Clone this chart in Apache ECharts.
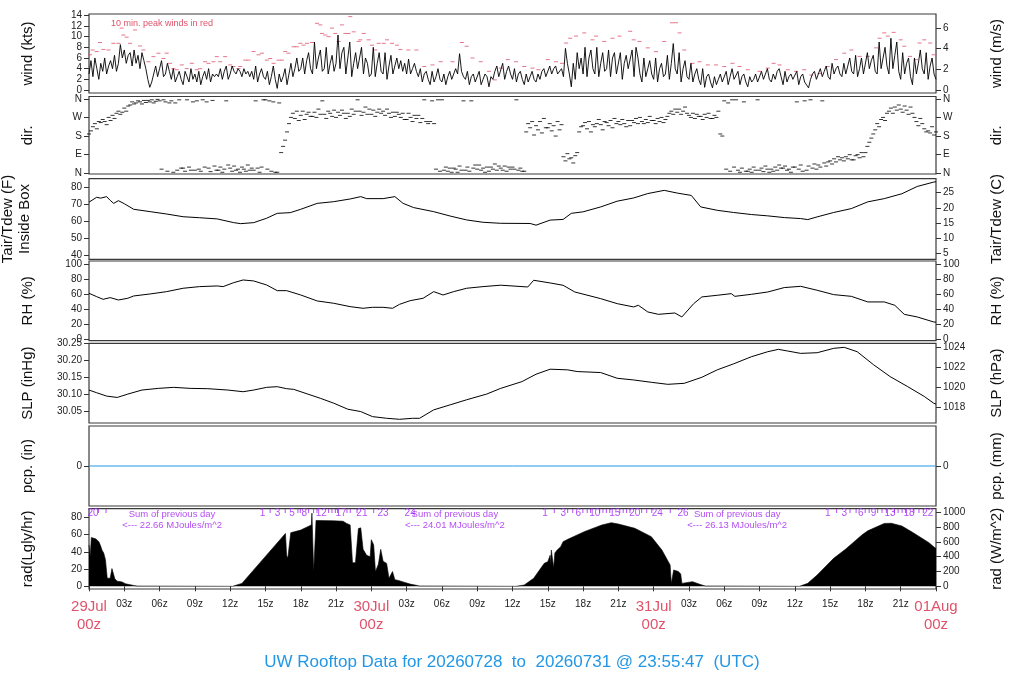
<!DOCTYPE html>
<html><head><meta charset="utf-8">
<script src="https://cdn.jsdelivr.net/npm/echarts@6/dist/echarts.min.js"></script>
<style>html,body{margin:0;padding:0;background:#fff}#c{width:1024px;height:700px}</style>
</head><body><div id="c"></div>
<script>
// ---------------- DATA ----------------
const dayNames = ['29Jul','30Jul','31Jul','01Aug'];
const xTicks = [0,3,6,9,12,15,18,21,24,27,30,33,36,39,42,45,48,51,54,57,60,63,66,69,72];

const windStep = 1/6; // hours between wind samples (10 min)
const windKts = [
3,5.5,2.5,6,4,2, 5,3.5,6,3,4.5,5.5, 4,6.5,3.5,5,8.5,6, 7.5,5,6.5,7,4.5,7.5, 5,6.5,4,7,5.5,4, 2,0.5,1.5,3,4.5,2.5,
4,5.5,2.5,3,5,3.5, 2,4,1.5,2.5,3.5,2, 1,3.5,2.5,1.5,4,2, 3,1.5,3.5,1,2.5,3.5, 2,4,1.5,3,2.5,3, 2.5,4,2,3.5,4.5,2,
3,4.5,3.5,3,4,3.5, 2.5,4,3,3.5,2.5,3.5, 2,4.5,1.5,3,4,2.5, 2,3.5,1,2.5,4.5,2, 0.3,3,1.5,2.5,4,1, 3,5,2.5,4,6,3.5,
4,6,3,5.5,7,4, 3,9,4,6,7.5,3.5, 4,8,3,5,6.5,3.5, 5,10.3,4,7,8,3, 3,9,2.5,5,7,4, 4,8,3,6,5,2.5,
3,8,2.5,5,7,3.5, 3,7,2,4.5,6.5,3, 3,6,4,5.5,3.5,5, 3,5.8,3,4,5,3.5, 2.5,4,1.5,3,3.5,2, 1,3.5,1.5,2.5,4,2,
1.5,3,1,2.5,3.5,2, 2,4,3,6.8,3.5,2.5, 2,3.5,1,2.5,3,1.5, 1.5,3.5,1,2,3,2.5, 0.6,2.5,2,3.5,4.5,2.5, 2.5,5,2,3.5,4.5,3,
2,4,1.5,3,3.5,2, 1,3,1.5,2.5,3.5,2, 1.5,3,2,3.5,4,2.5, 2.5,4.5,3,4,4.5,3, 3,4,2.5,7.8,5,3, 0.6,5,2,7,4,6,
3,8,2.5,6,7.5,4, 3,8,2.5,5,7,3.5, 4,7.5,2.5,6,7,3, 3,7,2,5,6.5,4, 4,7.5,2.5,8,6,3, 1.5,6,2.5,4,5.5,3,
2,6,1.5,4,5,2.5, 3,6.5,2,5,8.7,4, 3,7,1.5,4,5.5,2.5, 2,5,1.5,3,4,2, 1,4,0.5,2.5,3,1.5, 0.4,2.5,1,2,3,1.5,
1.5,3.5,1,2.5,4,2, 2,3.5,1,2.5,3,1.5, 0.6,2.5,1.5,2,3,1.5, 1.5,3.5,2,3,4,2, 1.5,3,2,3.5,4,2.5, 1,3.5,1.5,2.5,3,2,
2,3.5,1,2.5,3,1.5, 1.5,0.4,2,3,3.5,2, 2,4,2.5,3.5,4.5,2.5, 2,5,3,4,4.5,3, 2.5,5,3,4.5,6,3.5, 3,6.5,2.5,4,6,3,
3,7,4,5.5,6.5,3.5, 3,9,4,6,8,4.5, 3,9.7,4,6.5,9,3.5, 2,7,3,5,6,2.5, 1,6,3,5,7.5,4, 3,7,2,4.5,6,3,
2];

const peakHours = [0.09,0.31,0.65,0.94,1.22,1.65,2.07,2.5,2.78,2.92,3.2,3.49,3.91,4.34,4.62,5.05,5.48,5.9,6.33,6.6,6.89,7.17,7.46,7.89,8.31,8.74,9.16,9.45,9.87,10.16,10.58,10.86,11.15,11.57,12,12.28,12.71,12.85,13.28,13.56,13.99,14.41,14.7,15.12,15.4,15.69,16.11,16.4,16.68,16.96,17.39,17.67,17.96,18.24,18.53,18.95,19.38,19.66,19.8,20.09,20.37,20.65,20.94,21.22,21.5,21.79,22.07,22.21,22.5,22.92,23.06,23.35,23.77,24.06,24.34,24.62,25.05,25.33,25.76,26.18,
26.47,27.15,27.83,28.5,29.2,29.9,30.9,31.7,32.1,32.6,33.3,34,34.5,35,35.6,36.3,37,37.7,38.2,39,39.7,40.2,40.56,40.9,41.4,42.1,42.8,43.1,43.8,44.5,45.1,46,46.3,46.8,47.5,48.2,48.9,49.56,49.9,50.2,50.6,51.3,51.9,52.6,53.3,54,54.7,55.3,56,57,57.7,58.2,58.7,59.4,60.1,60.8,61.4,62.1,62.8,63.5,64.2,64.8,65.5,66.2,66.9,67.2,67.6,67.9,68.4,69,69.3,69.8,70.3,70.6,71,71.5,71.8];
const peakKts = [6.6,7.5,7.2,8.9,7.6,7.5,8.75,8.75,11.6,10.3,9.9,8.75,11.25,8.25,7.5,5.3,6.25,6.9,5.9,6.9,5,4,3.8,4.7,4,5,3.8,4,5.3,5,5.3,6.25,5.3,6.25,4.7,4.4,4,4.4,5.6,5.6,7.2,6.6,6.9,5.6,5.9,5,5.6,5.6,7.2,6.9,8.1,8.1,8.75,8.4,8.75,8.9,12.5,12.2,10.6,10.3,10,11.6,10.6,9.1,12.2,10.6,10.6,13.75,10.9,9.1,9.4,10.6,9.4,8.4,7.5,8.75,8.75,9.4,8.75,8.4,
7.6,7.5,7.5,4.4,4.7,5.3,5.3,8.9,8.2,6,5.3,3.5,1.9,4.1,5.7,5.3,4.4,4.1,3.8,5.7,5.3,5,8.8,9.7,10.1,10.7,9.4,10.1,9.1,9.7,10.1,11,9.4,9.1,7.9,7.2,9.1,12.6,12.6,10.7,7.5,5,5.3,4.7,4.7,4.4,5,4.4,3.8,3.5,4.1,5,4.7,3.8,3.5,3.8,2.8,3.1,4.4,5.7,6.9,7.5,6.3,6.3,7.9,9.7,10.7,10.1,10.8,9.4,8.2,6.3,5.7,8.8,9.4,8.8,6.6];

const dirStep = 1/6;
const dirDeg = [
190,205,225,240,215,250, 245,260,250,235,270,255, 280,265,290,300,285,295, 315,300,325,330,345,335, 340,350,345,335,352,342, 352,345,355,340,348,357,
350,20,355,345,10,340, 350,5,340,15,355,25, 25,10,355,30,15,345, 15,350,20,10,355,30, 345,25,8,352,35,15, 15,30,5,20,350,40,
25,10,35,15,20,5, 30,20,10,40,15,25, 15,350,25,5,30,355, 355,20,350,10,345,5, 5,340,100,130,160,200, 240,270,290,265,300,255,
280,300,260,285,295,275, 275,295,270,310,285,350, 285,265,300,290,275,305, 270,295,280,305,290,265, 290,275,310,285,300,355, 300,280,295,320,285,310,
285,305,275,295,310,290, 300,280,310,290,270,295, 275,295,285,270,290,260, 260,290,270,250,280,265, 280,245,265,355,250,240, 250,350,240,20,355,10,
355,15,30,10,25,5, 25,20,5,35,15,350, 15,30,10,350,25,40, 20,40,15,25,5,30, 10,30,20,45,15,35, 25,15,35,10,30,20,
30,20,355,15,25,10, 10,200,240,220,250,185, 230,210,250,195,265,220, 220,240,205,230,180,250, 210,235,80,60,95,70, 75,50,85,100,200,225,
230,245,215,250,200,235, 225,240,260,235,210,250, 245,230,255,220,265,240, 250,235,260,240,225,255, 230,255,245,265,240,270, 250,240,260,245,275,255,
255,240,265,250,270,245, 260,275,290,300,285,310, 295,310,285,300,320,290, 280,270,290,265,285,275, 275,260,285,270,290,265, 265,280,270,300,190,180,
350,20,340,10,355,30, 355,15,5,25,345,10, 10,20,5,30,15,355, 15,25,8,35,20,5, 20,10,30,15,40,25, 25,35,15,20,5,30,
30,345,20,40,10,350, 15,35,355,25,45,20, 40,30,350,50,35,55, 60,45,70,55,80,65, 75,60,80,70,90,65, 65,85,90,75,100,80,
100,130,150,170,190,210, 240,225,260,270,255,290, 300,315,290,320,305,330, 310,295,325,305,285,320, 290,270,250,230,265,240, 215,200,205,195,225,185,
200];
const dirTicks = [0,90,180,270,360];
const dirTickLabels = ['N','E','S','W','N'];

const tairHours = [0,0.65,1.0,1.5,1.8,2.1,2.5,3.0,3.8,5.2,6.6,8.0,9.4,10.9,12.3,12.9,14,15.1,16,17.1,18,19.4,20.8,22.2,23.1,23.6,25,26,26.7,27.6,29.3,30.7,32.1,33.5,35,37.5,38,39.2,40.3,41,42,43.5,44.9,46.3,47.5,48.9,50,51.2,52,53.4,54.8,56.3,57.7,59.1,60.5,61.1,61.9,63.3,64.8,66.2,67.6,69.1,70.4,71.8,72];
const tairF = [71.4,74.3,73.8,74.7,72.5,70.7,72.3,70.5,67.2,65.8,64.4,62.8,62.2,61.5,59.3,58.7,59.3,61.9,64.8,65.2,67.2,70.7,71.7,73.3,74.7,73.5,73.5,74.7,70.7,68.2,65.8,63.2,60.9,59.5,58.9,58.8,57.8,60.8,61.2,64.8,65.7,68.6,72,73.9,76.5,78.4,76.8,75.4,68.6,66.6,65.3,64.1,63.3,62.3,61.7,61.1,62.7,65.3,67.6,71.6,73.5,76.4,80.7,83.3,83.5];

const rhHours = [0,0.65,1.2,1.8,2.5,3.3,3.8,5.2,6.6,8,9.4,10.9,11.4,12.3,13.1,14,15.1,16,16.8,18,19.4,20.8,22.2,23.3,24.1,25,25.8,26.4,27.3,28.4,29.3,30.1,31,32.1,33.5,35,37.3,37.8,39.2,40.3,41.3,43.5,44.9,46.3,46.7,47.5,48.4,49.8,50.4,51.4,52.1,53.4,54.6,54.9,56.3,57.7,59.1,60.5,61.9,63.3,64.8,66.2,67.6,68.5,69.3,70.4,71.8,72];
const rhPct = [61.2,56.7,53.1,55.4,52.2,54.5,57.6,60.3,63.4,67.9,70.1,71,70.1,75.4,79,77.7,72.3,64.7,64.7,58.9,50.9,47.8,43.3,41.1,42.4,42.4,41.1,46.4,51.3,54.5,63.4,58.9,63.4,67.9,70.1,72,69.6,78.6,75,71.9,62.9,54,47.3,42.9,45.1,36.2,33,34.8,29.5,47.3,56.3,58.5,60.7,57.1,59.8,62.9,68.8,70.5,65.2,59.4,57.1,49.6,49.6,45.1,33,29.5,22.8,22.5];

const slpHours = [0,0.65,1.5,2.4,3.3,4.5,5.9,7.2,8.6,10.1,11.8,13.1,14,15.1,16,16.8,17.4,18.6,19.7,20.8,22,23.1,24.1,25.3,26.4,27.5,28.1,29.3,30.7,32.1,32.9,33.8,35,36.8,38,39.2,40.7,41.5,43.5,44.9,46.3,47.8,49.2,50.6,52.1,53.4,54.8,56.3,57.7,58.6,59.4,60.5,61.9,63.3,64.2,65.3,66.7,68.1,69.6,71,71.8,72];
const slpInHg = [30.112,30.104,30.094,30.090,30.100,30.112,30.117,30.120,30.117,30.116,30.112,30.107,30.112,30.120,30.122,30.116,30.114,30.100,30.087,30.073,30.055,30.048,30.033,30.028,30.025,30.028,30.028,30.053,30.068,30.083,30.091,30.100,30.117,30.137,30.159,30.174,30.172,30.167,30.164,30.147,30.142,30.135,30.129,30.132,30.150,30.172,30.190,30.211,30.226,30.233,30.228,30.221,30.223,30.236,30.239,30.226,30.187,30.152,30.122,30.093,30.073,30.070];

const pcpHours = [0,72];
const pcpIn = [0,0];

const radHours = [0,0.1,0.2,0.35,0.6,0.85,1.0,1.1,1.25,1.4,1.55,1.8,1.95,2.05,2.2,2.4,2.8,3.1,3.4,3.8,4.1,4.2,
12.2,12.3,13.0,16.7,16.8,16.9,17.05,17.15,18.0,18.9,18.95,19.05,19.1,19.2,19.3,20.8,21.6,21.9,22.2,22.4,22.65,22.9,23.1,23.3,23.6,23.9,24.0,24.2,24.35,24.6,24.8,25.0,25.3,25.5,25.8,26.0,26.3,26.7,27.3,27.8,28.1,28.2,
36.3,36.4,37,37.8,38.7,39,39.2,39.25,39.3,39.5,39.6,39.8,40.1,40.3,40.7,42.1,43.6,44.4,45,46.4,47.8,48.7,49.4,49.5,49.7,50.1,50.3,50.4,51.3,52.1,52.4,52.5,
60.4,60.5,61.1,61.9,63.3,64.3,64.8,65.7,66.2,67.6,68.2,69.1,70,70.4,71.4,71.8,72];
const radWm2 = [560,400,660,675,640,600,540,490,450,360,110,110,240,225,100,70,60,35,25,12,4,0,
0,8,40,715,420,380,380,725,760,830,990,990,200,200,890,885,880,850,830,320,320,780,790,500,420,400,630,560,200,300,500,340,310,110,200,90,80,60,30,15,5,0,
0,9,18,108,311,333,420,300,490,250,450,491,536,604,635,739,829,860,842,784,671,491,288,40,221,200,167,40,63,18,5,0,
0,5,41,153,378,500,570,694,750,850,852,815,730,690,590,536,510];

const radMarkHours = [0.34,14.75,16.03,17.26,18.3,19.75,21.42,23.2,25.0,27.3,38.77,40.32,41.6,43.0,44.7,46.4,48.3,50.5,62.8,64.2,65.6,66.7,68.1,69.7,71.3];
const radMarkText = ['20','1','3','5','8','12','17','21','23','24','1','3','6','10','15','20','24','26','1','3','6','9','13','18','22'];
const radTickHours = [0.8,1.45,15.4,16.68,17.76,17.96,18.67,19.09,19.38,20.37,20.65,20.94,21.13,21.93,22.21,22.78,24.2,39.55,40.69,41.12,41.98,42.35,42.64,43.41,43.69,43.98,44.27,45.12,45.41,45.7,45.98,46.98,47.41,47.84,49.41,63.55,64.69,65.21,65.98,66.32,67.04,67.41,67.78,68.47,68.78,69.12,69.41,70.12,70.55,70.92];
const sumHours = [7.06,31.1,55.1];
const sumMJ = ['22.66','24.01','26.13'];

const windTicksKt = [0,2,4,6,8,10,12,14];
const windTicksMs = [0,2,4,6];
const tairTicksF = [40,50,60,70,80];
const tairTicksC = [5,10,15,20,25];
const rhTicks = [0,20,40,60,80,100];
const slpTicksIn = [30.05,30.10,30.15,30.20,30.25];
const slpTicksHpa = [1018,1020,1022,1024];
const pcpTicks = [0];
const radTicksLy = [0,20,40,60,80];
const radTicksW = [0,200,400,600,800,1000];

// ---------------- CHART ----------------
const FONT = '"Liberation Sans", Arial, Helvetica, sans-serif';
const RED = '#DF536B', BLUE = '#2297E6', PURPLE = '#A020F0';
const KT_PER_MS = 1.943844, W_PER_LY = 11.622, HPA_PER_IN = 33.8639;
const panels = [
  {top:14, height:79}, {top:96.5, height:77.5}, {top:178.7, height:80.6},
  {top:261, height:79.7}, {top:343.3, height:79.7}, {top:426, height:80}, {top:508.7, height:80.3}
];
const grids = panels.map(p => ({left:89, width:847, top:p.top, height:p.height, show:true,
  borderColor:'#3a3a3a', borderWidth:1.2, containLabel:false, outerBoundsMode:'none'}));

const xAxes = panels.map((p,i) => {
  const last = i === panels.length - 1;
  return {
    type:'value', gridIndex:i, min:0, max:72, show:last,
    splitLine:{show:false}, axisLine:{show:false},
    axisTick:{show:last, length:5, lineStyle:{color:'#333'}, customValues:xTicks},
    axisLabel:{show:last, customValues:xTicks, margin:9, fontFamily:FONT,
      formatter: v => {
        const h = Math.round(v) % 24;
        if (h === 0) return '{d|' + dayNames[Math.round(v)/24] + '}\n{d|00z}';
        return '{s|' + String(h).padStart(2,'0') + 'z}';
      },
      rich:{ d:{color:RED, fontSize:15, lineHeight:18, fontFamily:FONT, align:'center'},
             s:{color:'#222', fontSize:10, lineHeight:12, fontFamily:FONT} }
    }
  };
});

function yAx(g, pos, min, max, ticks, name, fmt, gap) {
  return {
    type:'value', gridIndex:g, position:pos, min:min, max:max,
    splitLine:{show:false}, axisLine:{show:false},
    axisTick:{show:true, length:5, lineStyle:{color:'#333'}, customValues:ticks},
    axisLabel:{customValues:ticks, fontSize:10, color:'#222', fontFamily:FONT, margin:7,
      formatter: fmt || (v => String(v))},
    name:name, nameLocation:'middle', nameRotate:90, nameGap:gap,
    nameTextStyle:{fontSize:15, color:'#111', fontFamily:FONT, lineHeight:17}
  };
}
const windMin = -0.56, windMax = 14.24;
const tMinF = 37.6, tMaxF = 85.3;
const slpMin = 30.014, slpMax = 30.251;
const radMinW = -36, radMaxW = 1049;
const dirFmt = v => dirTickLabels[dirTicks.indexOf(Math.round(v))] || '';
const yAxes = [
  yAx(0,'left', windMin, windMax, windTicksKt, 'wind (kts)', null, 53),
  yAx(0,'right', windMin/KT_PER_MS, windMax/KT_PER_MS, windTicksMs, 'wind (m/s)', null, 52),
  yAx(1,'left', -3.4, 371, dirTicks, 'dir.', dirFmt, 53),
  yAx(1,'right', -3.4, 371, dirTicks, 'dir.', dirFmt, 52),
  yAx(2,'left', tMinF, tMaxF, tairTicksF, 'Tair/Tdew (F)\nInside Box', null, 56),
  yAx(2,'right', (tMinF-32)/1.8, (tMaxF-32)/1.8, tairTicksC, 'Tair/Tdew (C)', null, 52),
  yAx(3,'left', -2.3, 104.4, rhTicks, 'RH (%)', null, 53),
  yAx(3,'right', -2.3, 104.4, rhTicks, 'RH (%)', null, 52),
  yAx(4,'left', slpMin, slpMax, slpTicksIn, 'SLP (inHg)', v => v.toFixed(2), 53),
  yAx(4,'right', slpMin*HPA_PER_IN, slpMax*HPA_PER_IN, slpTicksHpa, 'SLP (hPa)', v => String(Math.round(v)), 52),
  yAx(5,'left', -1, 1, pcpTicks, 'pcp. (in)', null, 53),
  yAx(5,'right', -1, 1, pcpTicks, 'pcp. (mm)', null, 52),
  yAx(6,'left', radMinW/W_PER_LY, radMaxW/W_PER_LY, radTicksLy, 'rad(Lgly/hr)', null, 53),
  yAx(6,'right', radMinW, radMaxW, radTicksW, 'rad (W/m^2)', null, 52)
];

const pairs = (xs, ys) => xs.map((x,i) => [x, ys[i]]);
const lineS = (g, yi, data, color, w) => ({type:'line', xAxisIndex:g, yAxisIndex:yi, data:data, showSymbol:false, symbol:'none',
  lineStyle:{color:color, width:w}, silent:true, animation:false});

const series = [
  lineS(0, 0, windKts.map((v,i) => [i*windStep, v]), '#000', 0.9),
  {type:'scatter', xAxisIndex:0, yAxisIndex:0, data:pairs(peakHours, peakKts), symbol:'rect', symbolSize:[4,1],
   itemStyle:{color:RED}, silent:true},
  {type:'scatter', xAxisIndex:1, yAxisIndex:2, data:dirDeg.map((v,i) => [i*dirStep, v]), symbol:'rect', symbolSize:[4,1],
   itemStyle:{color:'#000'}, silent:true},
  lineS(2, 4, pairs(tairHours, tairF), '#000', 1),
  lineS(3, 6, pairs(rhHours, rhPct), '#000', 1),
  lineS(4, 8, pairs(slpHours, slpInHg), '#000', 1),
  lineS(5, 10, pairs(pcpHours, pcpIn), BLUE, 1),
  Object.assign(lineS(6, 13, pairs(radHours, radWm2), '#000', 0.6), {areaStyle:{color:'#000', opacity:1}}),
  {type:'scatter', xAxisIndex:6, yAxisIndex:13, data:radTickHours.map(h => [h, radMaxW - 31]), symbol:'rect', symbolSize:[1,4],
   itemStyle:{color:PURPLE}, silent:true},
  {type:'scatter', xAxisIndex:6, yAxisIndex:13, data:radMarkHours.map((h,i) => ({value:[h, radMaxW - 58], name:radMarkText[i]})),
   symbolSize:1, itemStyle:{color:'rgba(0,0,0,0)'}, silent:true,
   label:{show:true, position:'inside', formatter: p => p.name, color:PURPLE, fontSize:10, fontFamily:FONT}},
  {type:'scatter', xAxisIndex:6, yAxisIndex:13, data:sumHours.map((h,i) => ({value:[h, radMaxW - 150], name:sumMJ[i]})),
   symbolSize:1, itemStyle:{color:'rgba(0,0,0,0)'}, silent:true,
   label:{show:true, position:'inside', color:PURPLE, fontSize:9.5, fontFamily:FONT, lineHeight:11, align:'center',
     formatter: p => 'Sum of previous day\n<--- ' + p.name + ' MJoules/m^2'}}
];

const chart = echarts.init(document.getElementById('c'), null, {renderer:'canvas'});
chart.setOption({
  animation:false,
  backgroundColor:'#fff',
  title:[
    {text:'UW Rooftop Data for 20260728  to  20260731 @ 23:55:47  (UTC)', left:'center', top:649,
     textStyle:{color:BLUE, fontSize:17, fontWeight:'normal', fontFamily:FONT}},
    {text:'10 min. peak winds in red', left:106, top:14,
     textStyle:{color:RED, fontSize:9, fontWeight:'normal', fontFamily:FONT}}
  ],
  grid:grids, xAxis:xAxes, yAxis:yAxes, series:series
});
</script></body></html>
